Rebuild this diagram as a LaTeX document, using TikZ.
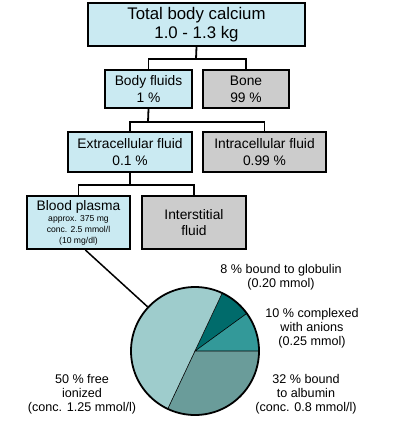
\documentclass[tikz,border=0pt]{standalone}
\usepackage{fontspec}
\setmainfont{Liberation Sans}
\definecolor{boxblue}{HTML}{CAEAF2}
\definecolor{boxgray}{HTML}{CCCCCC}
\definecolor{pfree}{HTML}{9ECCCC}
\definecolor{pglob}{HTML}{006B6B}
\definecolor{pcomp}{HTML}{339999}
\definecolor{palb}{HTML}{6A9C9A}
\tikzset{
  box/.style={draw=black, line width=2pt, inner sep=0pt, align=center},
  bluebox/.style={box, fill=boxblue},
  graybox/.style={box, fill=boxgray},
  conn/.style={line width=1.8pt},
  lbl/.style={align=center, inner sep=0pt, font=\fontsize{12.6}{14}\selectfont},
  sep/.style={line width=0.6pt}
}
\begin{document}
\begin{tikzpicture}[x=1pt, y=-1pt]
\useasboundingbox (0,0) rectangle (400,425);
% connectors
\coordinate (j1) at (196,59);
\coordinate (j2) at (148,122);
\coordinate (j3) at (130,185);
% boxes
\node[bluebox, minimum width=217pt, minimum height=43pt, font=\fontsize{16.8}{18.5}\selectfont] (total) at (196.5,24.5) {Total body calcium\\1.0 - 1.3 kg};
\node[bluebox, minimum width=87pt, minimum height=38pt, font=\fontsize{13.8}{16.7}\selectfont] (bf) at (148.5,89) {Body fluids\\1 \%};
\node[graybox, minimum width=86pt, minimum height=38pt, font=\fontsize{13.8}{16.7}\selectfont] (bone) at (246,89) {Bone\\99 \%};
\node[bluebox, minimum width=124pt, minimum height=40pt, font=\fontsize{13.8}{16.7}\selectfont] (ecf) at (130,152) {Extracellular fluid\\0.1 \%};
\node[graybox, minimum width=123pt, minimum height=40pt, font=\fontsize{13.8}{16.7}\selectfont] (icf) at (264.5,152) {Intracellular fluid\\0.99 \%};
\node[bluebox, minimum width=103pt, minimum height=53pt] (bp) at (78.5,222.5) {{\fontsize{13.8}{14}\selectfont Blood plasma}\\[-1pt]
  {\fontsize{8.6}{9}\selectfont approx. 375 mg}\\[-1pt]{\fontsize{8.6}{9}\selectfont conc. 2.5 mmol/l}\\[-1pt]{\fontsize{8.6}{9}\selectfont (10 mg/dl)}};
\node[graybox, minimum width=104pt, minimum height=53pt, font=\fontsize{13.8}{16.5}\selectfont] (isf) at (194,222.5) {Interstitial\\fluid};
\draw[conn] (total.south) -- (j1);
\draw[conn] (bf.north) |- (j1) -| (bone.north);
\draw[conn] (bf.south) -- (j2);
\draw[conn] ([xshift=-18.5pt]bf.south |- ecf.north) |- (j2) -| (icf.north);
\draw[conn] (ecf.south) -- (j3);
\draw[conn] (bp.north) |- (j3) -| (isf.north);
% pie
\coordinate (pc) at (195,351);
\begin{scope}[shift={(pc)}, x=1pt, y=1pt]
  \fill[pcomp] (0,0) -- (0:64) arc[start angle=0, end angle=36, radius=64] -- cycle;
  \fill[pglob] (0,0) -- (36:64) arc[start angle=36, end angle=64.8, radius=64] -- cycle;
  \fill[pfree] (0,0) -- (64.8:64) arc[start angle=64.8, end angle=244.8, radius=64] -- cycle;
  \fill[palb] (0,0) -- (244.8:64) arc[start angle=244.8, end angle=360, radius=64] -- cycle;
  \draw[sep] (0:64) -- (0,0) -- (36:64);
  \draw[sep] (64.8:64) -- (0,0) -- (244.8:64);
\end{scope}
\node[circle, draw=black, line width=1.8pt, minimum size=128pt, inner sep=0pt] (pie) at (pc) {};
\draw[line width=1.5pt] (bp.-76) -- (pie.137.5);
% labels
\node[lbl] (lglob) at (281,277) {8 \% bound to globulin\\(0.20 mmol)};
\node[lbl] (lcomp) at (312,328) {10 \% complexed\\with anions\\(0.25 mmol)};
\node[lbl] (lalb) at (306,394) {32 \% bound\\to albumin\\(conc. 0.8 mmol/l)};
\node[lbl] (lfree) at (82,394) {50 \% free\\ionized\\(conc. 1.25 mmol/l)};
\end{tikzpicture}
\end{document}
